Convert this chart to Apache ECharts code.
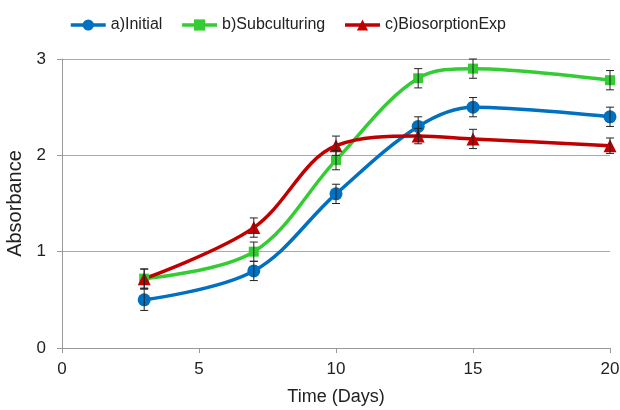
<!DOCTYPE html>
<html>
<head>
<meta charset="utf-8">
<script src="https://cdn.jsdelivr.net/npm/echarts@6/dist/echarts.min.js"></script>
<style>
html, body { margin: 0; padding: 0; background: #fff; }
#chart { width: 620px; height: 410px; }
</style>
</head>
<body>
<div id="chart"></div>
<script>
// days sampled
let days = [3, 7, 10, 13, 15, 20];

let initial = [0.5, 0.8, 1.6, 2.3, 2.5, 2.4];
let subculturing = [0.72, 1.0, 1.95, 2.8, 2.9, 2.78];
let biosorption = [0.72, 1.25, 2.1, 2.2, 2.17, 2.1];

// +/- error on each point
let errInitial = [0.11, 0.1, 0.1, 0.1, 0.1, 0.1];
let errSub = [0.1, 0.1, 0.1, 0.1, 0.1, 0.1];
let errBio = [0.1, 0.1, 0.1, 0.08, 0.1, 0.08];

let pairs = (ys) => days.map((d, i) => [d, ys[i]]);
let errRows = (ys, es) => days.map((d, i) => [d, ys[i] - es[i], ys[i] + es[i]]);

let errorBars = (name, ys, es) => ({
    type: 'custom',
    name: name + '_err',
    silent: true,
    z: 5,
    data: errRows(ys, es),
    encode: { x: 0, y: [1, 2] },
    renderItem: (params, api) => {
        let lo = api.coord([api.value(0), api.value(1)]);
        let hi = api.coord([api.value(0), api.value(2)]);
        let w = 4;
        let style = { stroke: '#222', lineWidth: 1 };
        return {
            type: 'group',
            children: [
                { type: 'line', shape: { x1: lo[0], y1: lo[1], x2: hi[0], y2: hi[1] }, style: style },
                { type: 'line', shape: { x1: lo[0] - w, y1: lo[1], x2: lo[0] + w, y2: lo[1] }, style: style },
                { type: 'line', shape: { x1: hi[0] - w, y1: hi[1], x2: hi[0] + w, y2: hi[1] }, style: style }
            ]
        };
    }
});

let lineSeries = (name, ys, color, symbol, size) => ({
    name: name,
    type: 'line',
    smooth: 0.35,
    data: pairs(ys),
    symbol: symbol,
    symbolSize: size,
    lineStyle: { color: color, width: 3.5 },
    itemStyle: { color: color },
    z: 3
});

let option = {
    animation: false,
    textStyle: { fontFamily: 'Liberation Sans, Arial, sans-serif' },
    legend: {
        top: 12,
        left: 64,
        itemWidth: 35,
        itemHeight: 14,
        itemGap: 18,
        lineStyle: { width: 3.5 },
        textStyle: { fontSize: 16, color: '#222' },
        data: ['a)Initial', 'b)Subculturing', 'c)BiosorptionExp']
    },
    grid: { left: 62, right: 10, top: 59, bottom: 62, outerBoundsMode: 'none' },
    xAxis: {
        type: 'value',
        min: 0, max: 20, interval: 5,
        name: 'Time (Days)',
        nameLocation: 'middle',
        nameGap: 40,
        nameTextStyle: { fontSize: 18, color: '#222' },
        axisLabel: { fontSize: 17, color: '#222', margin: 13 },
        axisLine: { lineStyle: { color: '#999' } },
        axisTick: { show: true, length: 5, lineStyle: { color: '#999' } },
        splitLine: { show: false }
    },
    yAxis: {
        type: 'value',
        min: 0, max: 3, interval: 1,
        name: 'Absorbance',
        nameLocation: 'middle',
        nameGap: 32,
        nameTextStyle: { fontSize: 20, color: '#222' },
        axisLabel: { fontSize: 17, color: '#222', margin: 16 },
        axisLine: { show: true, lineStyle: { color: '#999' } },
        axisTick: { show: true, length: 5, lineStyle: { color: '#999' } },
        splitLine: { lineStyle: { color: '#aaa' } }
    },
    series: [
        lineSeries('a)Initial', initial, '#0070C0', 'circle', 13),
        lineSeries('b)Subculturing', subculturing, '#33CC33', 'rect', 10),
        lineSeries('c)BiosorptionExp', biosorption, '#C00000', 'triangle', 13),
        errorBars('a', initial, errInitial),
        errorBars('b', subculturing, errSub),
        errorBars('c', biosorption, errBio)
    ]
};

let myChart = echarts.init(document.getElementById('chart'));
myChart.setOption(option);
</script>
</body>
</html>
